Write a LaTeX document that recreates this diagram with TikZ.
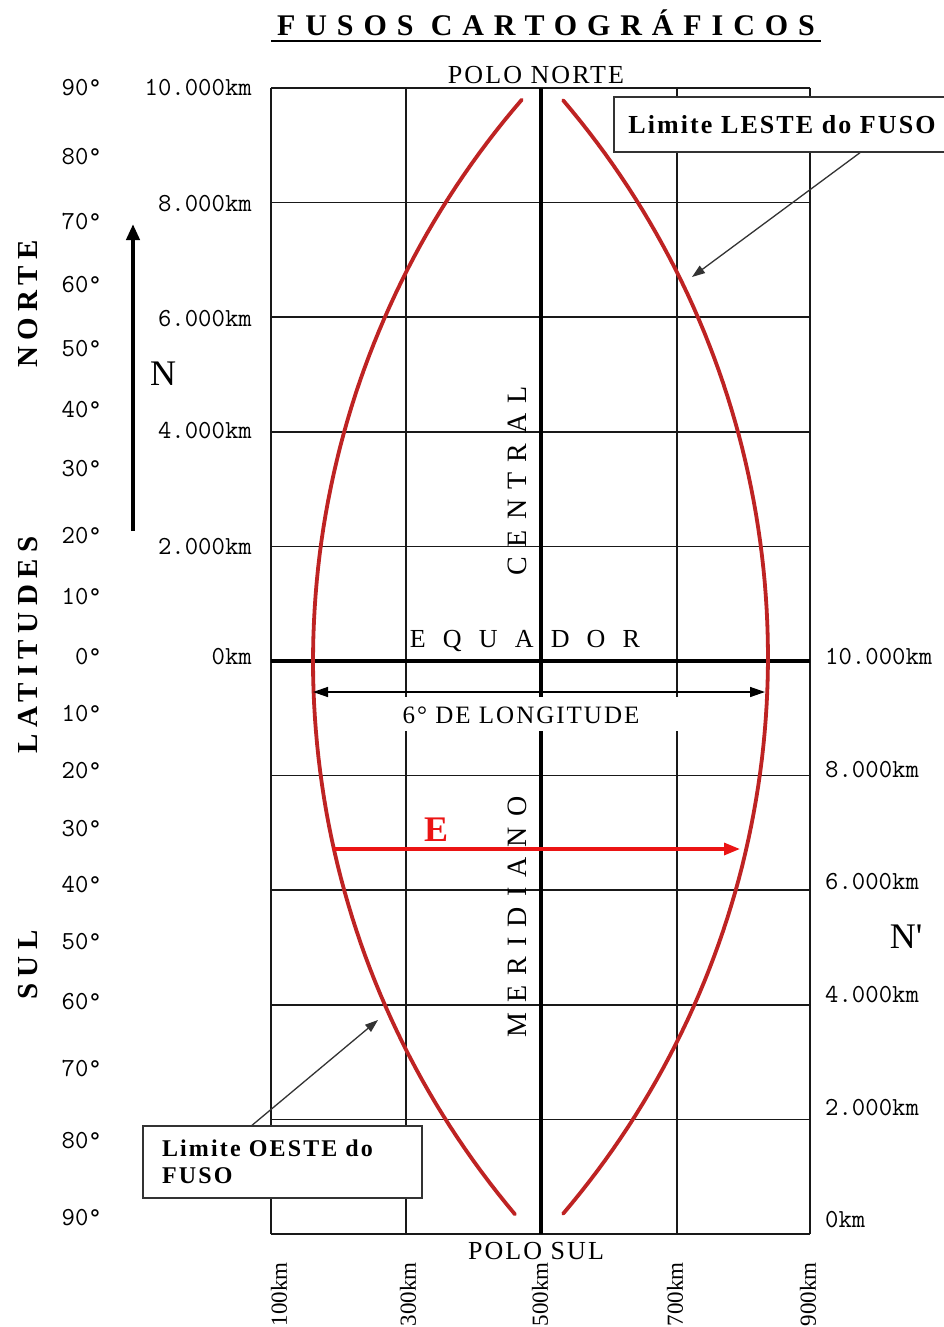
\documentclass[tikz,border=0pt]{standalone}
\usepackage{fontspec}
\setmainfont{Liberation Serif}
\usetikzlibrary{arrows.meta}
\definecolor{fusored}{RGB}{190,35,35}
\definecolor{arrred}{RGB}{235,20,20}
\begin{document}
\begin{tikzpicture}[x=1pt,y=-1pt,
  gridline/.style={line width=1.5pt, black!90},
  axisline/.style={line width=4pt, black},
  fuso/.style={line width=3.8pt, draw=fusored, line cap=round},
  kmlab/.style={font=\ttfamily\fontsize{26}{28}\selectfont, inner sep=0pt},
  deglab/.style={font=\ttfamily\fontsize{26}{28}\selectfont, inner sep=0pt, anchor=east},
  botlab/.style={font=\fontsize{23}{25}\selectfont, inner sep=0pt, rotate=90, anchor=east},
  sidelab/.style={font=\bfseries\fontsize{29}{31}\selectfont\addfontfeature{LetterSpace=22}, inner sep=0pt, rotate=90},
  vlab/.style={font=\fontsize{28}{30}\selectfont\addfontfeature{LetterSpace=36}, inner sep=0pt, rotate=90},
  polelab/.style={font=\fontsize{26}{28}\selectfont\addfontfeature{LetterSpace=8}, inner sep=0pt},
  callout/.style={draw=black!80, line width=1.4pt, fill=white},
  pointer/.style={draw=black!80, line width=1.3pt, -{Triangle[length=13pt,width=9pt]}},
  biglab/.style={font=\fontsize{36}{38}\selectfont, inner sep=0pt},
]
\useasboundingbox[fill=white] (0,0) rectangle (944,1327);

% title
\node[font=\bfseries\fontsize{30}{32}\selectfont\addfontfeature{LetterSpace=33}, inner sep=0pt] (title) at (546,23) {FUSOS CARTOGRÁFICOS};
\draw[line width=2.5pt] (271,41) -- (821,41);

% grid
\foreach \i in {0,...,10} \draw[gridline] (271,{88+114.6*\i}) -- (810,{88+114.6*\i});
\foreach \x in {271,406,677,810} \draw[gridline] (\x,88) -- (\x,1234);
\draw[axisline] (541,88) -- (541,1234);
\draw[axisline] (271,661) -- (810,661);

% fuso limits
\draw[fuso] plot[domain=-40.8:40.1, samples=90] ({1172-859*cos(\x)},{661+859*sin(\x)});
\draw[fuso] plot[domain=-40.4:40.4, samples=90] ({-91+859*cos(\x)},{657+859*sin(\x)});

% pole labels
\node[polelab] (pn) at (536,75) {POLO NORTE};
\node[polelab] (ps) at (536,1251) {POLO SUL};

% equator and meridian labels
\node[font=\fontsize{26}{28}\selectfont\addfontfeature{LetterSpace=66}, inner sep=0pt] (equador) at (525,641) {EQUADOR};
\node[vlab] (central) at (517,481) {CENTRAL};
\node[vlab] (meridiano) at (517,917) {MERIDIANO};

% longitude width
\fill[white] (392,697) rectangle (690,731);
\node[font=\fontsize{25}{27}\selectfont\addfontfeature{LetterSpace=8}, inner sep=0pt] (longlab) at (521,715) {6° DE LONGITUDE};
\coordinate (dl) at (313,692);
\coordinate (dr) at (765,692);
\draw[line width=1.4pt, {Triangle[length=15pt,width=10pt]}-{Triangle[length=15pt,width=10pt]}] (dl) -- (dr);

% red E arrow
\node[font=\bfseries\fontsize{36}{38}\selectfont, text=arrred, inner sep=0pt] (elab) at (436,830) {E};
\coordinate (el) at (333,849);
\coordinate (er) at (740,849);
\draw[line width=3.2pt, draw=arrred, -{Triangle[length=16pt,width=12pt]}] (el) -- (er);

% N arrow
\coordinate (nb) at (133,531);
\coordinate (nt) at (133,224);
\draw[line width=4.5pt, -{Triangle[length=16pt,width=13pt]}] (nb) -- (nt);
\node[biglab] (nlab) at (163,374) {N};
\node[biglab, font=\fontsize{36}{38}\selectfont\addfontfeature{Ligatures=TeXOff}] (nplab) at (906,937) {N'};

% side labels
\node[sidelab] (norte) at (28,304) {NORTE};
\node[sidelab] (latitudes) at (28,645) {LATITUDES};
\node[sidelab] (sul) at (28,965) {SUL};

% degree labels
\foreach \t/\y in {90/88,80/157,70/222,60/285,50/349,40/410,30/469,20/536,10/597,0/657,10/714,20/771,30/829,40/885,50/942,60/1002,70/1069,80/1141,90/1218}
  \node[deglab] at (102,\y) {\t°};

% left km labels
\foreach \t/\y in {10.000/88,8.000/204,6.000/319,4.000/431,2.000/547,0/657}
  \node[kmlab, anchor=east] at (252,\y) {\t km};

% right km labels
\foreach \t/\y in {10.000/657,8.000/770,6.000/882,4.000/995,2.000/1108,0/1220}
  \node[kmlab, anchor=west] at (825,\y) {\t km};

% bottom labels
\foreach \t/\x in {100/279,300/408,500/540,700/675,900/808}
  \node[botlab] at (\x,1262) {\t km};

% callouts
\node[callout, font=\bfseries\fontsize{26}{28}\selectfont\addfontfeature{LetterSpace=8}, minimum width=336pt, minimum height=55pt, inner sep=0pt] (leste) at (782,124.5) {Limite LESTE do FUSO};
\coordinate (lesteTip) at (692,277);
\draw[pointer] ([xshift=78pt]leste.south) -- (lesteTip);

\node[callout, font=\bfseries\fontsize{24}{27}\selectfont\addfontfeature{LetterSpace=9}, align=left, text width=241pt, inner xsep=19pt, inner ysep=0pt, minimum height=72pt] (oeste) at (282.5,1162) {Limite OESTE do\\FUSO};
\coordinate (oesteTip) at (378,1020);
\draw[pointer] ([xshift=-30.5pt]oeste.north) -- (oesteTip);
\end{tikzpicture}
\end{document}
